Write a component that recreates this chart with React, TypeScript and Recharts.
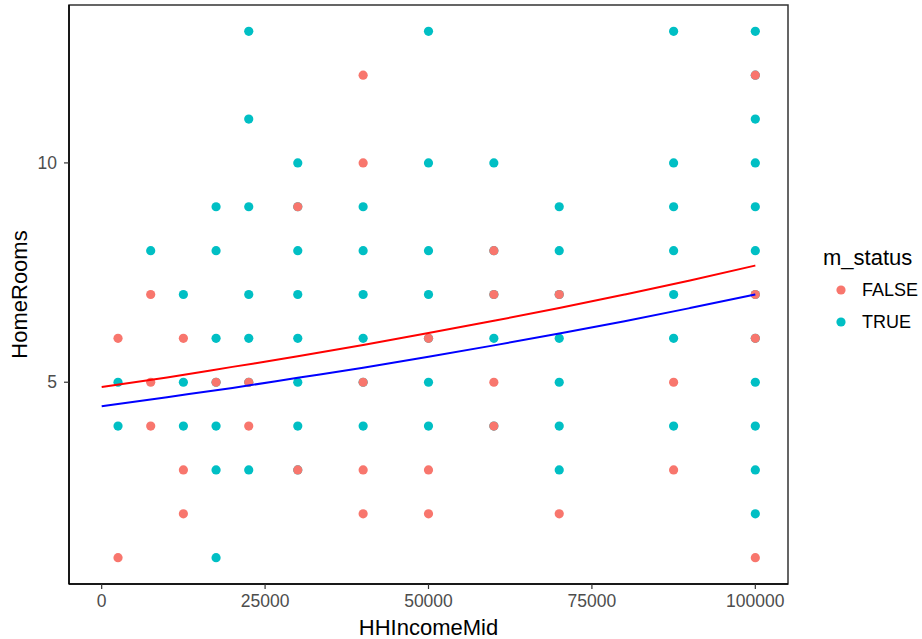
import { ScatterChart, Scatter, XAxis, YAxis, ReferenceArea, Label } from "recharts";

// income bands (x), one column of HomeRooms values per band
const incomeLevels = [2500, 7500, 12500, 17500, 22500, 30000, 40000, 50000, 60000, 70000, 87500, 100000];

const falseRooms = [
  [6, 1],
  [7, 5, 4],
  [6, 3, 2],
  [5],
  [5, 4],
  [9, 3],
  [12, 10, 5, 3, 2],
  [6, 3, 2],
  [8, 7, 5, 4],
  [7, 2],
  [5, 3],
  [12, 7, 6, 1],
];

const trueRooms = [
  [5, 4],
  [8],
  [7, 5, 4],
  [9, 8, 6, 5, 4, 3, 1],
  [13, 11, 9, 7, 6, 5, 3],
  [10, 9, 8, 7, 6, 5, 4, 3],
  [9, 8, 7, 6, 5, 4],
  [13, 10, 8, 7, 6, 5, 4],
  [10, 8, 7, 6, 4],
  [9, 8, 7, 6, 5, 4, 3],
  [13, 10, 9, 8, 7, 6, 4],
  [13, 12, 11, 10, 9, 8, 7, 6, 5, 4, 3, 2],
];

// fitted curves
const fitIncome = [0, 10000, 20000, 30000, 40000, 50000, 60000, 70000, 80000, 90000, 100000];
const falseFit = [4.89, 5.11, 5.35, 5.59, 5.85, 6.12, 6.4, 6.69, 7.0, 7.32, 7.66];
const trueFit = [4.45, 4.66, 4.87, 5.1, 5.33, 5.58, 5.84, 6.11, 6.39, 6.69, 7.0];

const xTicks = [0, 25000, 50000, 75000, 100000];
const yTicks = [5, 10];

const FALSE_COLOR = "#F8766D";
const TRUE_COLOR = "#00BFC4";
const FONT = "'Liberation Sans', Arial, sans-serif";

const toPoints = (cols: number[][]) =>
  cols.flatMap((rooms, i) => rooms.map((r) => ({ x: incomeLevels[i], y: r })));

const falsePts = toPoints(falseRooms);
const truePts = toPoints(trueRooms);
const falseLine = fitIncome.map((x, i) => ({ x, y: falseFit[i] }));
const trueLine = fitIncome.map((x, i) => ({ x, y: trueFit[i] }));

const dot = (color: string) => (p: any) => <circle cx={p.cx} cy={p.cy} r={4.6} fill={color} />;

function StatusLegend() {
  const items = [
    { label: "FALSE", color: FALSE_COLOR },
    { label: "TRUE", color: TRUE_COLOR },
  ];
  return (
    <div style={{ position: "absolute", left: 808, top: 245, width: 114, fontFamily: FONT, color: "#000" }}>
      <div style={{ fontSize: 22, lineHeight: "26px", marginLeft: 15 }}>m_status</div>
      <div style={{ marginTop: 3 }}>
        {items.map((it) => (
          <div key={it.label} style={{ display: "flex", alignItems: "center", height: 32 }}>
            <svg width={12} height={12} style={{ marginLeft: 27 }}>
              <circle cx={6} cy={6} r={4.6} fill={it.color} />
            </svg>
            <span style={{ fontSize: 18, marginLeft: 15 }}>{it.label}</span>
          </div>
        ))}
      </div>
    </div>
  );
}

export default function App() {
  return (
    <div style={{ position: "absolute", left: 0, top: 0, width: 922, height: 639, background: "#fff" }}>
      <ScatterChart width={922} height={639} margin={{ top: 5, right: 134, bottom: 0, left: 0 }}>
        <XAxis
          type="number"
          dataKey="x"
          domain={[-5000, 105000]}
          ticks={xTicks}
          allowDataOverflow
          height={55}
          tickSize={5}
          tickMargin={6}
          tick={{ fontSize: 17.5, fill: "#4D4D4D", fontFamily: FONT }}
          tickLine={{ stroke: "#333", strokeWidth: 1.2 }}
          axisLine={{ stroke: "#000", strokeWidth: 1.5 }}
        >
          <Label
            value="HHIncomeMid"
            position="insideBottom"
            offset={4}
            style={{ fontSize: 22, fill: "#000", fontFamily: FONT }}
          />
        </XAxis>
        <YAxis
          type="number"
          dataKey="y"
          domain={[0.4, 13.6]}
          ticks={yTicks}
          allowDataOverflow
          width={69}
          tickSize={5}
          tickMargin={7}
          tick={{ fontSize: 17.5, fill: "#4D4D4D", fontFamily: FONT }}
          tickLine={{ stroke: "#333", strokeWidth: 1.2 }}
          axisLine={{ stroke: "#000", strokeWidth: 1.5 }}
        >
          <Label
            value="HomeRooms"
            angle={-90}
            position="insideLeft"
            offset={19}
            style={{ fontSize: 22, fill: "#000", fontFamily: FONT, textAnchor: "middle" }}
          />
        </YAxis>
        <ReferenceArea x1={-5000} x2={105000} y1={0.4} y2={13.6} fill="none" stroke="#333" strokeWidth={1.5} />
        <Scatter name="TRUE" data={truePts} shape={dot(TRUE_COLOR)} isAnimationActive={false} />
        <Scatter name="FALSE" data={falsePts} shape={dot(FALSE_COLOR)} isAnimationActive={false} />
        <Scatter
          data={falseLine}
          line={{ stroke: "#FF0000", strokeWidth: 2 }}
          lineJointType="monotoneX"
          shape={() => <g />}
          isAnimationActive={false}
        />
        <Scatter
          data={trueLine}
          line={{ stroke: "#0000FF", strokeWidth: 2 }}
          lineJointType="monotoneX"
          shape={() => <g />}
          isAnimationActive={false}
        />
      </ScatterChart>
      <StatusLegend />
    </div>
  );
}
